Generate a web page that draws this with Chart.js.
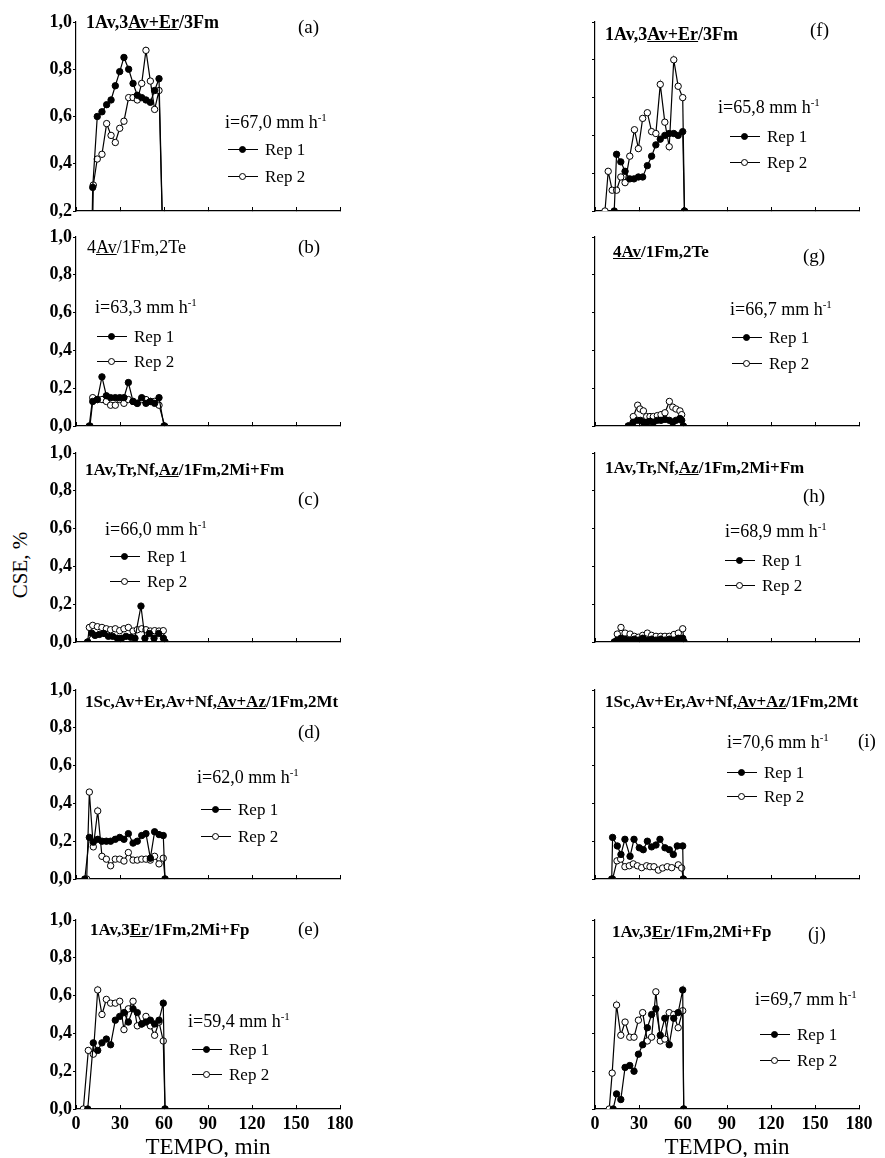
<!DOCTYPE html>
<html>
<head>
<meta charset="utf-8">
<script src="https://cdn.jsdelivr.net/npm/chart.js@4.4.1/dist/chart.umd.min.js"></script>
<style>
  html, body { margin: 0; padding: 0; background: #fff; }
  body { position: relative; width: 885px; height: 1158px; overflow: hidden;
         font-family: 'Liberation Serif', 'Times New Roman', serif; color: #000; }
  canvas { position: absolute; }
  .t { position: absolute; white-space: nowrap; line-height: 1; }
  .t sup { font-size: 11px; vertical-align: 7px; line-height: 0; }
  .mk { position: absolute; width: 30px; height: 0; border-top: 1.3px solid #000; }
  .mk::after { content: ''; position: absolute; left: 11px; top: -4.6px; width: 7px; height: 7px;
               box-sizing: border-box; border: 1.2px solid #000; border-radius: 50%; background: #000; }
  .mk.open::after { background: #fff; }
  #ylab { position: absolute; left: 20px; top: 565px; font-size: 21px; white-space: nowrap;
          transform: translate(-50%, -50%) rotate(-90deg); }
</style>
</head>
<body>
<div id="ylab">CSE, %</div>
<script>
// axis ticks
const xTickValues = [0, 30, 60, 90, 120, 150, 180];
const yTickValues = [0, 0.2, 0.4, 0.6, 0.8, 1.0];

// [time (min), CSE]
const repA1 = [[10.5,0],[11.4,0.30],[14.5,0.60],[17.7,0.62],[20.9,0.65],[23.9,0.67],[26.8,0.73],[29.8,0.79],[32.7,0.85],[35.9,0.80],[38.9,0.74],[41.8,0.69],[44.8,0.68],[47.7,0.67],[50.7,0.66],[53.6,0.71],[56.6,0.76],[59.5,0]];
const repA2 = [[11,0],[11.8,0.31],[14.5,0.42],[17.7,0.44],[20.9,0.57],[23.9,0.52],[26.8,0.49],[29.8,0.55],[32.7,0.58],[35.9,0.68],[38.9,0.68],[41.8,0.67],[44.8,0.74],[47.7,0.88],[50.7,0.75],[53.6,0.63],[56.6,0.71],[59.5,0]];

const repB1 = [[9.5,0],[11.4,0.13],[14.6,0.14],[17.7,0.26],[20.7,0.16],[23.6,0.15],[26.8,0.15],[29.8,0.15],[32.7,0.15],[35.7,0.23],[38.9,0.13],[41.8,0.12],[44.8,0.15],[47.7,0.12],[50.7,0.13],[53.6,0.12],[56.6,0.15],[60,0]];
const repB2 = [[9,0],[11.4,0.15],[14.6,0.14],[17.7,0.14],[20.7,0.13],[23.6,0.11],[26.8,0.11],[29.8,0.14],[32.7,0.12],[35.7,0.14],[38.9,0.13],[41.8,0.12],[44.8,0.14],[47.7,0.14],[50.7,0.13],[53.6,0.13],[56.6,0.11],[60.5,0]];

const repC1 = [[8,0],[10.7,0.047],[13,0.035],[15.9,0.04],[19.1,0.045],[22.1,0.03],[25,0.03],[28.2,0.02],[31.1,0.02],[34.1,0.03],[37.3,0.025],[40.2,0.02],[44.3,0.19],[47,0.02],[50,0.045],[53.2,0.02],[56.4,0.045],[59.6,0.02],[60.7,0]];
const repC2 = [[7.9,0],[9.1,0.077],[11.4,0.088],[14.6,0.081],[17.7,0.077],[20.7,0.07],[23.6,0.065],[26.8,0.07],[29.8,0.06],[32.7,0.07],[35.7,0.077],[38.9,0.058],[41.8,0.065],[44.8,0.07],[47.7,0.065],[50.7,0.058],[53.6,0.06],[56.6,0.058],[59.5,0.06],[60.7,0]];

const repD1 = [[6,0],[9.1,0.22],[11.8,0.195],[14.8,0.21],[17.7,0.20],[20.7,0.20],[23.6,0.20],[26.8,0.21],[29.8,0.22],[32.7,0.21],[35.7,0.24],[38.9,0.19],[41.8,0.20],[44.8,0.23],[47.7,0.24],[50.7,0.11],[53.6,0.25],[56.6,0.235],[59.5,0.23],[60.7,0]];
const repD2 = [[7.3,0],[9.1,0.46],[11.8,0.17],[14.8,0.36],[17.7,0.12],[20.7,0.105],[23.6,0.07],[26.8,0.105],[29.8,0.105],[32.7,0.095],[35.7,0.14],[38.9,0.10],[41.8,0.10],[44.8,0.105],[47.7,0.105],[50.7,0.10],[53.6,0.12],[56.6,0.08],[59.5,0.11],[60.7,0]];

const repE1 = [[8,0],[11.8,0.35],[14.8,0.31],[17.7,0.35],[20.7,0.37],[23.6,0.34],[26.8,0.47],[29.8,0.49],[32.7,0.51],[35.7,0.46],[38.9,0.53],[41.8,0.51],[44.8,0.45],[47.7,0.46],[50.7,0.47],[53.6,0.45],[56.6,0.47],[59.5,0.56],[60.7,0]];
const repE2 = [[5,0],[8.4,0.31],[11.8,0.29],[14.8,0.63],[17.7,0.50],[20.7,0.58],[23.6,0.56],[26.8,0.56],[29.8,0.57],[32.7,0.42],[35.7,0.53],[38.9,0.57],[41.8,0.44],[44.8,0.45],[47.7,0.49],[50.7,0.44],[53.6,0.39],[56.6,0.46],[59.5,0.36],[60.7,0]];

const repF1 = [[13.1,0],[14.7,0.30],[17.6,0.26],[20.5,0.21],[23.7,0.17],[26.6,0.17],[29.6,0.18],[32.5,0.18],[35.7,0.24],[38.6,0.29],[41.5,0.35],[44.5,0.38],[47.6,0.40],[50.6,0.41],[53.7,0.41],[56.7,0.40],[59.8,0.42],[61,0]];
const repF2 = [[6.8,0],[9.0,0.21],[11.7,0.11],[14.7,0.11],[17.6,0.18],[20.5,0.15],[23.7,0.29],[26.9,0.43],[29.6,0.33],[32.5,0.49],[35.7,0.52],[38.6,0.42],[41.5,0.41],[44.5,0.67],[47.6,0.47],[50.6,0.34],[53.7,0.80],[56.7,0.66],[59.8,0.60],[61,0]];

const repG1 = [[22.7,0],[26,0.02],[29,0.03],[31,0.03],[33,0.02],[35.2,0.02],[37.5,0.025],[39.8,0.02],[42.5,0.03],[45,0.03],[47.7,0.035],[50.7,0.03],[53,0.02],[55.2,0.03],[57.9,0.04],[59.1,0.03],[60.2,0]];
const repG2 = [[22.7,0],[26.1,0.05],[29.1,0.11],[30.7,0.09],[33,0.08],[35.2,0.05],[37.5,0.05],[39.8,0.05],[42.5,0.055],[45,0.06],[47.7,0.07],[50.7,0.13],[53,0.10],[55.2,0.09],[57.9,0.08],[59.1,0.06],[60.2,0]];

const repH1 = [[13.2,0],[15.2,0.01],[17.7,0.02],[20.5,0.015],[23.9,0.01],[26.8,0.015],[29.6,0.01],[32.5,0.02],[35.7,0.01],[38.6,0.015],[41.6,0.01],[44.8,0.015],[47.7,0.01],[50.7,0.015],[53.9,0.01],[56.8,0.02],[59.8,0.02],[60.7,0]];
const repH2 = [[13.2,0],[15.2,0.042],[17.7,0.077],[20.5,0.047],[23.9,0.042],[26.8,0.03],[29.6,0.025],[32.5,0.035],[35.7,0.047],[38.6,0.035],[41.6,0.03],[44.8,0.03],[47.7,0.03],[50.7,0.03],[53.9,0.04],[56.8,0.047],[59.8,0.07],[60.7,0]];

const repI1 = [[11.4,0],[12.0,0.22],[15.2,0.175],[17.7,0.13],[20.4,0.21],[23.9,0.12],[26.6,0.21],[30.2,0.165],[32.9,0.155],[35.7,0.20],[38.6,0.17],[41.6,0.18],[44.3,0.21],[47.7,0.165],[50.7,0.155],[53.4,0.13],[56.1,0.175],[59.8,0.175],[60.2,0]];
const repI2 = [[12,0],[15,0.096],[17.5,0.105],[20.4,0.065],[23.4,0.07],[26.1,0.08],[28.9,0.07],[31.8,0.06],[35.2,0.07],[37.5,0.065],[40.2,0.065],[43.2,0.047],[46.1,0.058],[49.3,0.065],[52.3,0.06],[56.8,0.075],[59.1,0.058],[60.2,0]];

const repJ1 = [[12.4,0],[14.7,0.08],[17.6,0.05],[20.5,0.22],[23.7,0.23],[26.6,0.20],[29.6,0.29],[32.5,0.34],[35.7,0.43],[38.6,0.50],[41.5,0.53],[44.5,0.39],[47.6,0.48],[50.6,0.34],[53.7,0.48],[56.7,0.51],[59.8,0.63],[60.5,0]];
const repJ2 = [[9.7,0],[11.7,0.19],[14.7,0.55],[17.6,0.39],[20.5,0.46],[23.7,0.38],[26.6,0.38],[29.6,0.47],[32.5,0.51],[35.7,0.36],[38.6,0.38],[41.5,0.62],[44.5,0.36],[47.6,0.37],[50.6,0.51],[53.7,0.50],[56.7,0.43],[59.8,0.52],[60.5,0]];

// panel layout
const colX = [76, 595];
const rowY = [22, 237, 453, 690, 920];
const PLOT_W = 264;
const PLOT_H = 189;

const panels = [
  { col: 0, row: 0, yMin: 0.2, rep1: repA1, rep2: repA2, title: '1Av,3<u>Av+Er</u>/3Fm', bold: true, size: 18, tx: 86, ty: 28, tag: '(a)', gx: 298, gy: 33, rate: '67,0', ix: 225, iy: 128, mx: 228, my: 150, dy: 27 },
  { col: 0, row: 1, rep1: repB1, rep2: repB2, title: '4<u>Av</u>/1Fm,2Te', bold: false, size: 18, tx: 87, ty: 253, tag: '(b)', gx: 298, gy: 253, rate: '63,3', ix: 95, iy: 313, mx: 97, my: 337, dy: 25 },
  { col: 0, row: 2, rep1: repC1, rep2: repC2, title: '1Av,Tr,Nf,<u>Az</u>/1Fm,2Mi+Fm', bold: true, size: 17, tx: 85, ty: 475, tag: '(c)', gx: 298, gy: 505, rate: '66,0', ix: 105, iy: 535, mx: 110, my: 557, dy: 25 },
  { col: 0, row: 3, rep1: repD1, rep2: repD2, title: '1Sc,Av+Er,Av+Nf,<u>Av+Az</u>/1Fm,2Mt', bold: true, size: 17, tx: 85, ty: 707, tag: '(d)', gx: 298, gy: 738, rate: '62,0', ix: 197, iy: 783, mx: 201, my: 810, dy: 27 },
  { col: 0, row: 4, rep1: repE1, rep2: repE2, title: '1Av,3<u>Er</u>/1Fm,2Mi+Fp', bold: true, size: 17, tx: 90, ty: 935, tag: '(e)', gx: 298, gy: 935, rate: '59,4', ix: 188, iy: 1027, mx: 192, my: 1050, dy: 25 },
  { col: 1, row: 0, rep1: repF1, rep2: repF2, title: '1Av,3<u>Av+Er</u>/3Fm', bold: true, size: 18, tx: 605, ty: 40, tag: '(f)', gx: 810, gy: 36, rate: '65,8', ix: 718, iy: 113, mx: 730, my: 137, dy: 26 },
  { col: 1, row: 1, rep1: repG1, rep2: repG2, title: '<u>4Av</u>/1Fm,2Te', bold: true, size: 17, tx: 613, ty: 257, tag: '(g)', gx: 803, gy: 262, rate: '66,7', ix: 730, iy: 315, mx: 732, my: 338, dy: 26 },
  { col: 1, row: 2, rep1: repH1, rep2: repH2, title: '1Av,Tr,Nf,<u>Az</u>/1Fm,2Mi+Fm', bold: true, size: 17, tx: 605, ty: 473, tag: '(h)', gx: 803, gy: 502, rate: '68,9', ix: 725, iy: 537, mx: 725, my: 561, dy: 25 },
  { col: 1, row: 3, rep1: repI1, rep2: repI2, title: '1Sc,Av+Er,Av+Nf,<u>Av+Az</u>/1Fm,2Mt', bold: true, size: 17, tx: 605, ty: 707, tag: '(i)', gx: 858, gy: 747, rate: '70,6', ix: 727, iy: 748, mx: 727, my: 773, dy: 24 },
  { col: 1, row: 4, rep1: repJ1, rep2: repJ2, title: '1Av,3<u>Er</u>/1Fm,2Mi+Fp', bold: true, size: 17, tx: 612, ty: 937, tag: '(j)', gx: 808, gy: 940, rate: '69,7', ix: 755, iy: 1005, mx: 760, my: 1035, dy: 26 },
];

Chart.defaults.font.family = "'Liberation Serif', 'Times New Roman', serif";
Chart.defaults.color = '#000';

// place a text element by its baseline (line-height 1)
function addText(html, x, baseline, size, bold) {
  const el = document.createElement('div');
  el.className = 't';
  el.innerHTML = html;
  el.style.fontSize = size + 'px';
  el.style.fontWeight = bold ? 'bold' : 'normal';
  el.style.left = x + 'px';
  el.style.top = (baseline - 0.8375 * size) + 'px';
  document.body.appendChild(el);
}

function addMarker(x, y, open) {
  const el = document.createElement('div');
  el.className = open ? 'mk open' : 'mk';
  el.style.left = x + 'px';
  el.style.top = (y - 0.65) + 'px';
  document.body.appendChild(el);
}

function series(points, fill, clip) {
  return {
    data: points.map(([x, y]) => ({ x, y })),
    borderColor: '#000',
    borderWidth: 1.2,
    pointRadius: 3.2,
    pointBackgroundColor: fill,
    pointBorderColor: '#000',
    pointBorderWidth: 1,
    tension: 0,
    clip,
  };
}

function makePanel(p) {
  const bottomRow = p.row === 4;
  const bottomH = bottomRow ? 48 : 8;
  const yMin = p.yMin || 0;
  const canvas = document.createElement('canvas');
  canvas.width = 60 + PLOT_W + 14;
  canvas.height = 14 + PLOT_H + bottomH;
  canvas.style.left = (colX[p.col] - 60) + 'px';
  canvas.style.top = (rowY[p.row] - 14) + 'px';
  document.body.appendChild(canvas);

  const clip = yMin > 0 ? { left: 6, top: 6, right: 6, bottom: 0 } : undefined;

  new Chart(canvas, {
    type: 'line',
    data: { datasets: [series(p.rep1, '#000', clip), series(p.rep2, '#fff', clip)] },
    options: {
      responsive: false,
      animation: false,
      layout: { padding: { top: 14, right: 14, left: 0, bottom: 0 } },
      plugins: { legend: { display: false }, tooltip: { enabled: false } },
      scales: {
        x: {
          type: 'linear',
          min: 0,
          max: 180,
          afterBuildTicks: (s) => { s.ticks = xTickValues.map((v) => ({ value: v })); },
          afterFit: (s) => { s.height = bottomH; s.paddingLeft = 0; s.paddingRight = 0; },
          grid: { drawOnChartArea: false, drawTicks: true, tickLength: -4, color: '#000', lineWidth: 1 },
          border: { display: true, color: '#000', width: 1.2 },
          ticks: { display: bottomRow, padding: 9, maxRotation: 0, font: { size: 18, weight: 'bold' } },
          title: {
            display: bottomRow,
            text: 'TEMPO, min',
            font: { size: 23, lineHeight: 1 },
            padding: { top: 0, bottom: -2 },
          },
        },
        y: {
          min: yMin,
          max: 1,
          afterBuildTicks: (s) => {
            s.ticks = yTickValues.filter((v) => v >= yMin - 1e-9).map((v) => ({ value: v }));
          },
          afterFit: (s) => { s.width = 60; s.paddingTop = 0; s.paddingBottom = 0; },
          grid: { drawOnChartArea: false, drawTicks: true, tickLength: 3, color: '#000', lineWidth: 1 },
          border: { display: true, color: '#000', width: 1.2 },
          ticks: {
            display: p.col === 0,
            padding: 1,
            font: { size: 18, weight: 'bold' },
            callback: (v) => Number(v).toFixed(1).replace('.', ','),
          },
        },
      },
    },
  });

  addText(p.title, p.tx, p.ty, p.size, p.bold);
  addText(p.tag, p.gx, p.gy, 19, false);
  addText('i=' + p.rate + ' mm h<sup>-1</sup>', p.ix, p.iy, 18, false);
  addMarker(p.mx, p.my, false);
  addText('Rep 1', p.mx + 37, p.my + 5, 17, false);
  addMarker(p.mx, p.my + p.dy, true);
  addText('Rep 2', p.mx + 37, p.my + p.dy + 5, 17, false);
}

panels.forEach(makePanel);
</script>
</body>
</html>
